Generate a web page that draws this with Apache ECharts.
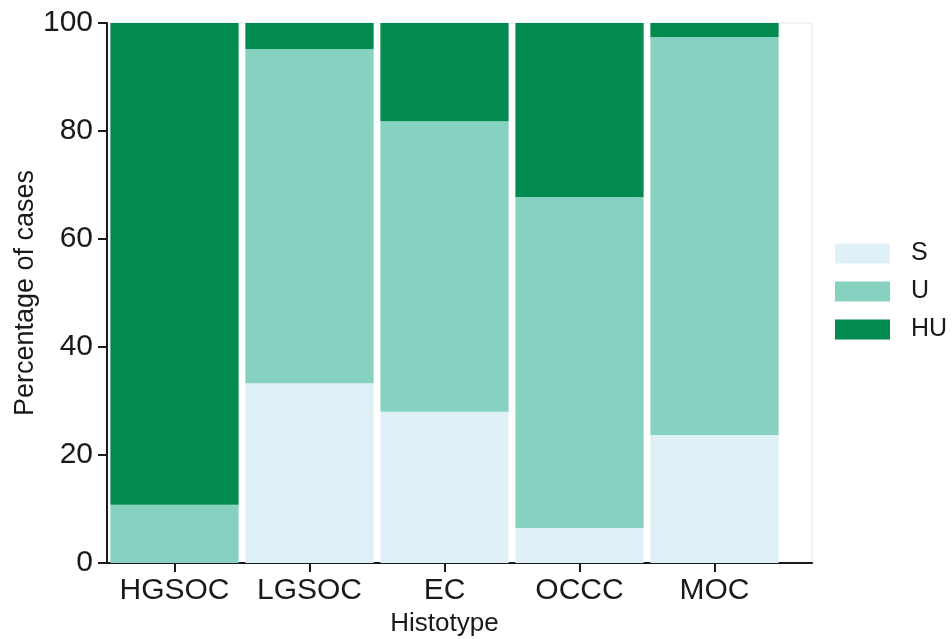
<!DOCTYPE html>
<html>
<head>
<meta charset="utf-8">
<script src="https://cdn.jsdelivr.net/npm/echarts@6/dist/echarts.min.js"></script>
<style>
  html, body { margin: 0; padding: 0; background: #fff; }
  #chart { width: 952px; height: 639px; }
</style>
</head>
<body>
<div id="chart"></div>
<script>
// Histotype categories and percentage of cases per group
const histotypes = ['HGSOC', 'LGSOC', 'EC', 'OCCC', 'MOC'];
const sValues  = [0.0, 33.3, 28.0, 6.5, 23.7];
const uValues  = [10.8, 61.9, 53.8, 61.3, 73.7];
const huValues = [89.2, 4.8, 18.2, 32.2, 2.6];
const yTicks = [0, 20, 40, 60, 80, 100];

const FONT = 'Liberation Sans, Arial, Helvetica, sans-serif';
const INK = '#1a1a1a';
const colors = { S: '#dff1f7', U: '#87d1c1', HU: '#038a50' };

const chart = echarts.init(document.getElementById('chart'), null, { renderer: 'canvas' });

const barSeries = (name, data) => ({
  name: name,
  type: 'bar',
  stack: 'total',
  xAxisIndex: 0,
  yAxisIndex: 0,
  barCategoryGap: '5%',
  itemStyle: { color: colors[name] },
  emphasis: { disabled: true },
  data: data
});

chart.setOption({
  animation: false,
  textStyle: { fontFamily: FONT },
  grid: [
    // bar area
    { left: 107, right: 170, top: 23, bottom: 76, outerBoundsMode: 'none', containLabel: false },
    // full frame with the longer x axis line and light border
    { left: 107, right: 140, top: 23, bottom: 76, show: true, outerBoundsMode: 'none', containLabel: false,
      borderColor: '#e8e8e8', borderWidth: 1, backgroundColor: 'transparent' }
  ],
  legend: {
    orient: 'vertical',
    left: 835,
    top: 241,
    padding: 0,
    itemWidth: 55,
    itemHeight: 20,
    itemGap: 13,
    icon: 'rect',
    selectedMode: false,
    data: ['S', 'U', 'HU'],
    textStyle: { fontFamily: FONT, fontSize: 25, color: INK, padding: [0, 0, 0, 16] }
  },
  xAxis: [
    {
      type: 'category',
      gridIndex: 0,
      data: histotypes,
      axisLine: { show: false },
      axisTick: { show: true, alignWithLabel: true, length: 9, lineStyle: { color: INK, width: 2 } },
      axisLabel: { fontFamily: FONT, fontSize: 30, color: INK, margin: 13, interval: 0 },
      name: 'Histotype',
      nameLocation: 'middle',
      nameGap: 47,
      nameTextStyle: { fontFamily: FONT, fontSize: 26, color: INK },
      splitLine: { show: false }
    },
    {
      type: 'value',
      gridIndex: 1,
      min: 0,
      max: 1,
      axisLine: { show: true, lineStyle: { color: INK, width: 2 } },
      axisTick: { show: false },
      axisLabel: { show: false },
      splitLine: { show: false }
    }
  ],
  yAxis: [
    {
      type: 'value',
      gridIndex: 0,
      min: yTicks[0],
      max: yTicks[yTicks.length - 1],
      interval: yTicks[1] - yTicks[0],
      axisLine: { show: true, lineStyle: { color: INK, width: 2 } },
      axisTick: { show: true, length: 9, lineStyle: { color: INK, width: 2 } },
      axisLabel: { fontFamily: FONT, fontSize: 30, color: INK, margin: 14 },
      splitLine: { show: false },
      name: 'Percentage of cases',
      nameLocation: 'middle',
      nameMoveOverlap: false,
      nameGap: 68,
      nameTextStyle: { fontFamily: FONT, fontSize: 27, color: INK }
    },
    {
      type: 'value',
      gridIndex: 1,
      min: 0,
      max: 1,
      axisLine: { show: false },
      axisTick: { show: false },
      axisLabel: { show: false },
      splitLine: { show: false }
    }
  ],
  series: [
    barSeries('S', sValues),
    barSeries('U', uValues),
    barSeries('HU', huValues)
  ]
});
</script>
</body>
</html>
